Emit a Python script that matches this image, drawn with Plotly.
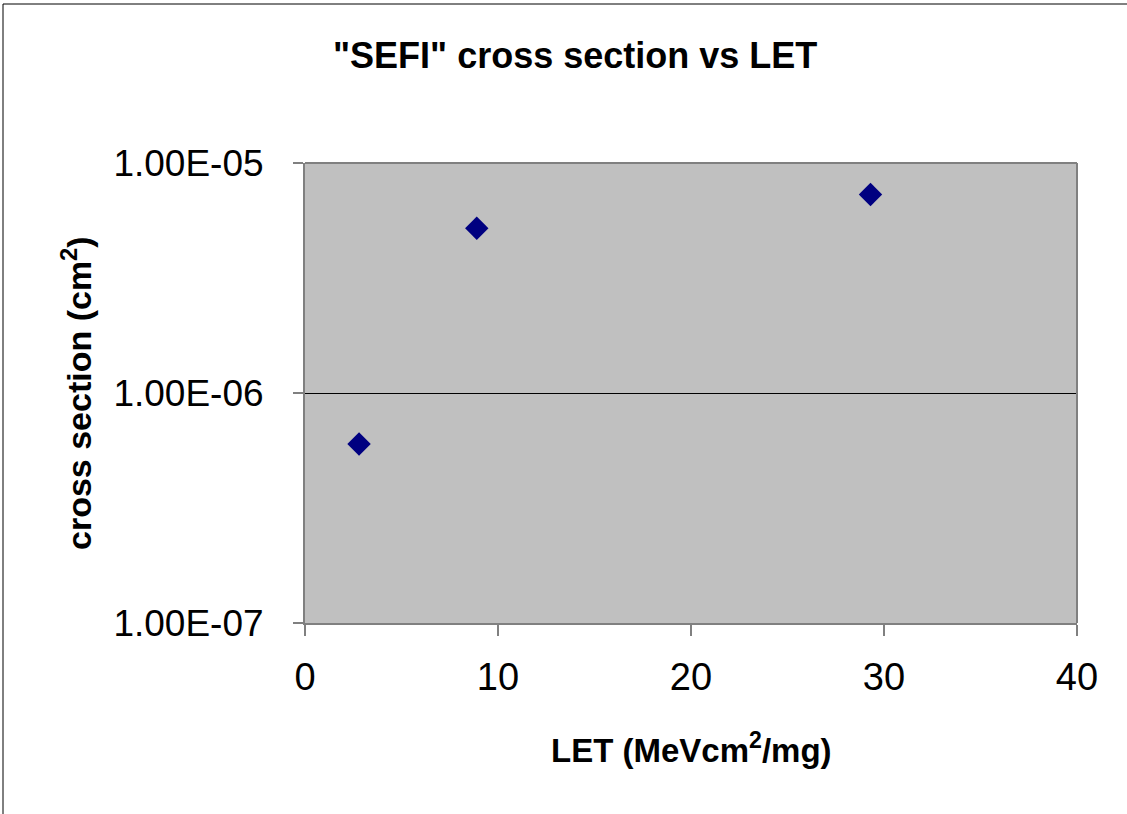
import plotly.graph_objects as go

let_values = [2.8, 8.9, 29.3]
cross_section = [6.0e-7, 5.2e-6, 7.3e-6]
y_tick_vals = [1e-7, 1e-6, 1e-5]
y_tick_text = ["1.00E-07", "1.00E-06", "1.00E-05"]
x_tick_vals = [0, 10, 20, 30, 40]

W, H = 1127, 814
L, R, T, B = 305, 50, 163, 191
pw, ph = W - L - R, H - T - B

def px(x):
    return (x - L) / pw

def py(y):
    return (H - B - y) / ph

fig = go.Figure()
fig.add_trace(go.Scatter(
    x=let_values, y=cross_section, mode="markers",
    marker=dict(symbol="diamond", size=18, color="#000080", line=dict(width=0)),
    showlegend=False, cliponaxis=False,
))

font = "Liberation Sans, Arial, sans-serif"
fig.update_layout(
    width=W, height=H,
    margin=dict(l=L, r=R, t=T, b=B, pad=0),
    paper_bgcolor="white", plot_bgcolor="#C0C0C0",
    font=dict(family=font, color="black"),
    xaxis=dict(range=[0, 40], tickvals=x_tick_vals, ticks="outside", ticklen=11,
               tickcolor="#808080", tickwidth=2, showgrid=False, zeroline=False,
               showline=True, linecolor="#808080", linewidth=2,
               tickfont=dict(size=38, family=font), ticklabelstandoff=8),
    yaxis=dict(type="log", range=[-7, -5], tickvals=y_tick_vals, ticktext=y_tick_text,
               ticks="outside", ticklen=10, tickcolor="#808080", tickwidth=2,
               showgrid=True, gridcolor="black", gridwidth=1, zeroline=False,
               showline=True, linecolor="#808080", linewidth=2,
               tickfont=dict(size=37, family=font), ticklabelstandoff=22),
    annotations=[
        dict(text='<b>"SEFI" cross section vs LET</b>', xref="paper", yref="paper",
             x=px(575), y=py(55), showarrow=False, font=dict(size=36, family=font),
             xanchor="center", yanchor="middle"),
        dict(text="<b>LET (MeVcm<sup>2</sup>/mg)</b>", xref="paper", yref="paper",
             x=px(691), y=py(748), showarrow=False, font=dict(size=33, family=font),
             xanchor="center", yanchor="middle"),
        dict(text="<b>cross section (cm<sup>2</sup>)</b>", xref="paper", yref="paper",
             x=px(76), y=py(393), showarrow=False, textangle=-90,
             font=dict(size=34, family=font), xanchor="center", yanchor="middle"),
    ],
    shapes=[
        dict(type="line", xref="paper", yref="paper", x0=0, x1=1, y0=1, y1=1,
             line=dict(color="#808080", width=2)),
        dict(type="line", xref="paper", yref="paper", x0=1, x1=1, y0=0, y1=1,
             line=dict(color="#808080", width=2)),
        dict(type="line", xref="paper", yref="paper", x0=px(3), x1=px(3), y0=py(4), y1=py(830),
             line=dict(color="black", width=1)),
        dict(type="line", xref="paper", yref="paper", x0=px(3), x1=px(1140), y0=py(4), y1=py(4),
             line=dict(color="black", width=1)),
    ],
)

fig.write_html("out.html", config={"displayModeBar": False},
               post_script="document.body.style.margin='0';document.body.style.overflow='hidden';")
